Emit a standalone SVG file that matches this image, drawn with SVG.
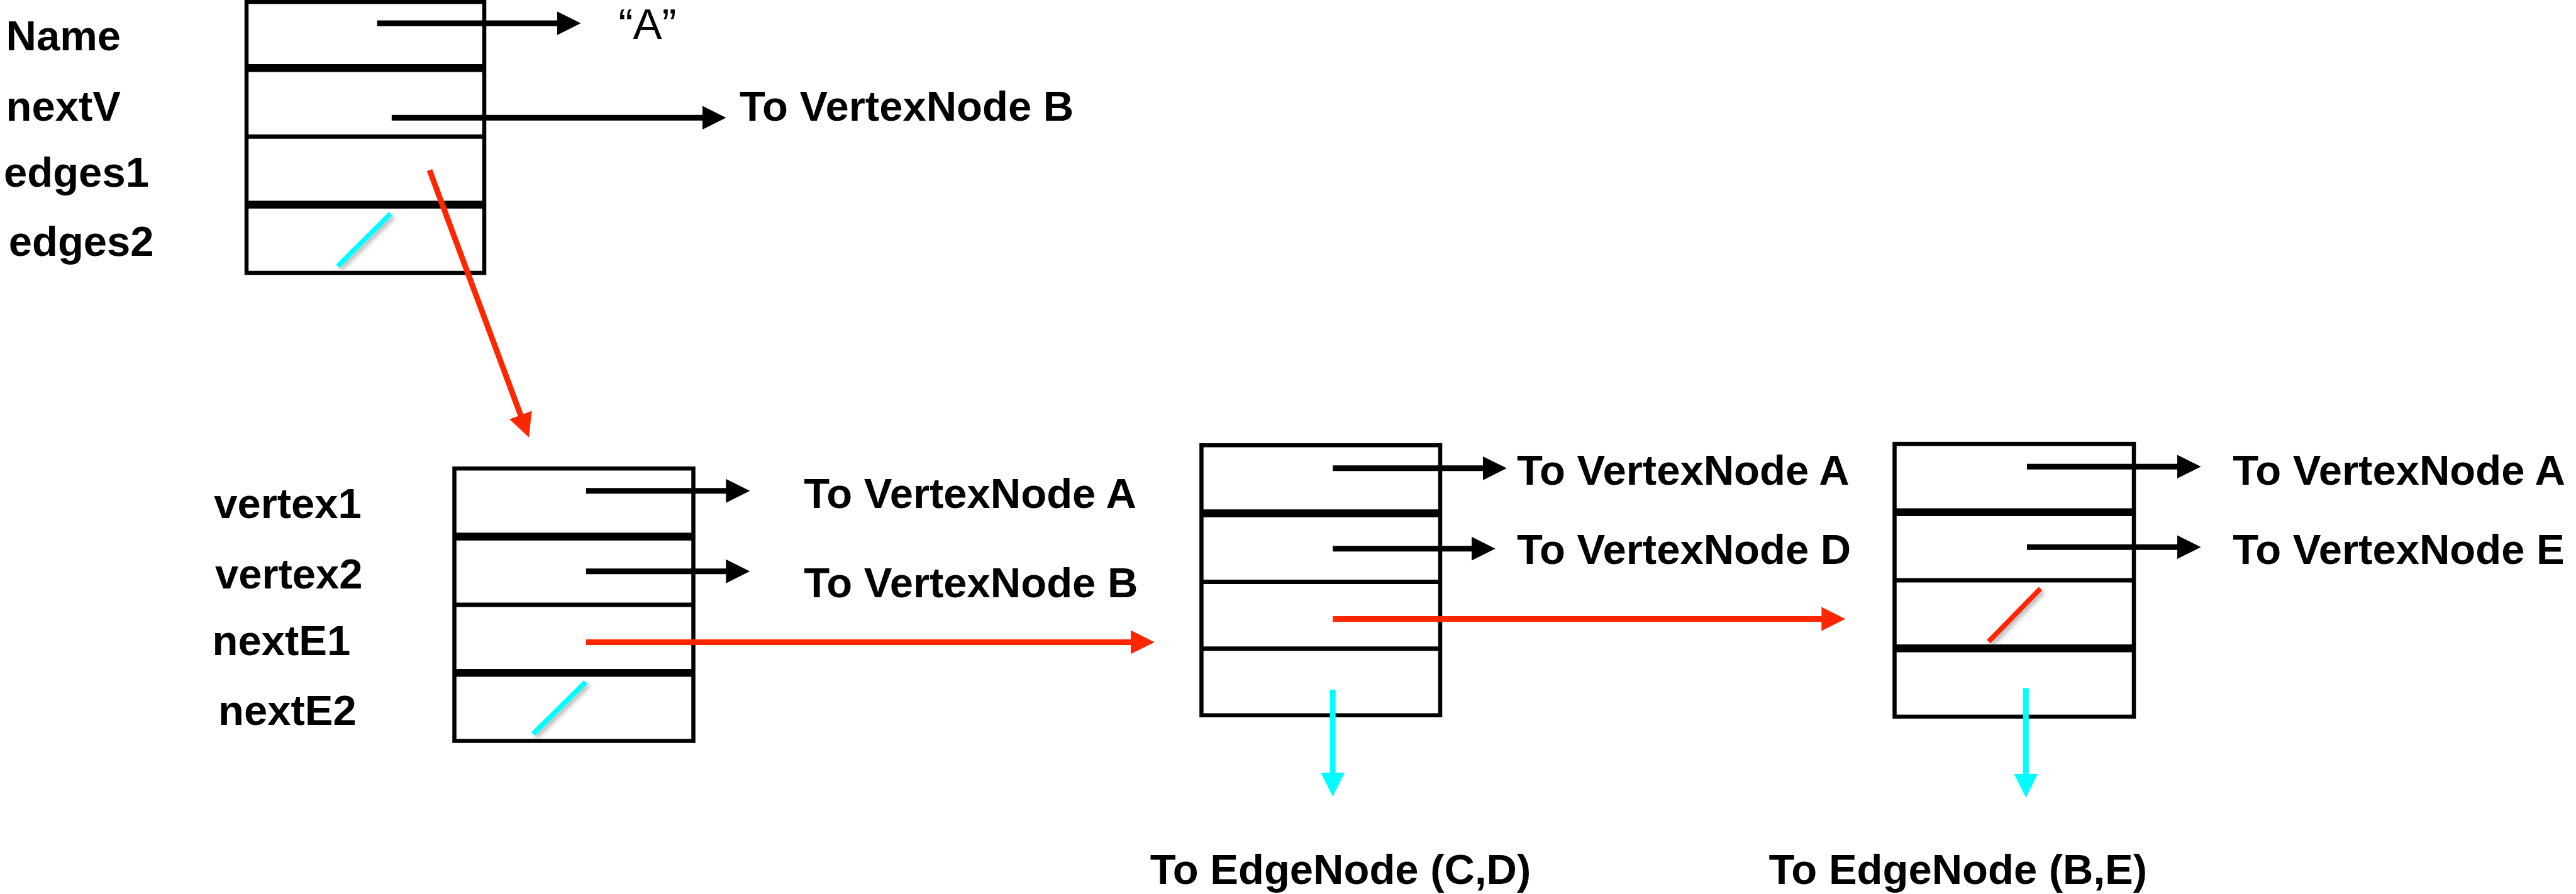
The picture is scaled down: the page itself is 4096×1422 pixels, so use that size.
<svg xmlns="http://www.w3.org/2000/svg" width="4096" height="1422" viewBox="0 0 4096 1422">
  <style>
    .cell { fill: #ffffff; stroke: #000000; stroke-width: 6.5; }
    .thick { stroke: #000000; stroke-width: 12.5; }
    .thin { stroke: #000000; stroke-width: 7; }
    .lbl { font-family: "Liberation Sans", Arial, Helvetica, sans-serif; font-weight: bold; font-size: 67px; fill: #000000; }
    .val { font-family: "Liberation Sans", Arial, Helvetica, sans-serif; font-weight: normal; font-size: 69px; fill: #000000; }
    .ptr { stroke: #000000; stroke-width: 9; fill: none; }
    .red { stroke: #ff2600; stroke-width: 9; fill: none; }
    .cyan { stroke: #00fdff; stroke-width: 9; fill: none; }
    .nullR { stroke: #ff2600; stroke-width: 8; filter: url(#soft); }
    .nullC { stroke: #00fdff; stroke-width: 8; filter: url(#soft); }
  </style>
  <defs>
    <filter id="soft" x="-30%" y="-30%" width="160%" height="160%">
      <feDropShadow dx="4" dy="4" stdDeviation="3.5" flood-color="#000000" flood-opacity="0.3"/>
    </filter>
    <marker id="headK" markerUnits="userSpaceOnUse" markerWidth="40" markerHeight="40" viewBox="0 0 40 40" refX="2" refY="20" orient="auto">
      <path d="M0,1 L38,20 L0,39 z" fill="#000000"/>
    </marker>
    <marker id="headR" markerUnits="userSpaceOnUse" markerWidth="40" markerHeight="40" viewBox="0 0 40 40" refX="2" refY="20" orient="auto">
      <path d="M0,1 L38,20 L0,39 z" fill="#ff2600"/>
    </marker>
    <marker id="headC" markerUnits="userSpaceOnUse" markerWidth="40" markerHeight="40" viewBox="0 0 40 40" refX="2" refY="20" orient="auto">
      <path d="M0,1 L38,20 L0,39 z" fill="#00fdff"/>
    </marker>
  </defs>
  <rect x="0" y="0" width="4096" height="1422" fill="#ffffff"/>

  <!-- vertex node A -->
  <g id="vertex-node-A">
    <rect class="cell" x="392" y="3" width="378" height="431"/>
    <line class="thick" x1="392" y1="108.2" x2="770" y2="108.2"/>
    <line class="thin" x1="392" y1="217.3" x2="770" y2="217.3"/>
    <line class="thick" x1="392" y1="325.6" x2="770" y2="325.6"/>
    <line class="nullC" x1="537" y1="423.5" x2="621" y2="340"/>
    <text class="lbl" x="9.5" y="80">Name</text>
    <text class="lbl" x="9.5" y="191.6">nextV</text>
    <text class="lbl" x="6" y="297.2">edges1</text>
    <text class="lbl" x="13.7" y="407.2">edges2</text>
  </g>

  <!-- edge node (A,B) -->
  <g id="edge-node-AB">
    <rect class="cell" x="722.5" y="745.2" width="380" height="433.3"/>
    <line class="thick" x1="722.5" y1="853.4" x2="1102.5" y2="853.4"/>
    <line class="thin" x1="722.5" y1="962.1" x2="1102.5" y2="962.1"/>
    <line class="thick" x1="722.5" y1="1070.3" x2="1102.5" y2="1070.3"/>
    <line class="nullC" x1="847.8" y1="1167.4" x2="931.2" y2="1084.9"/>
    <text class="lbl" x="340.2" y="823.8">vertex1</text>
    <text class="lbl" x="341.9" y="935.5">vertex2</text>
    <text class="lbl" x="337.6" y="1042">nextE1</text>
    <text class="lbl" x="347" y="1152.8">nextE2</text>
  </g>

  <!-- edge node (A,D) -->
  <g id="edge-node-AD">
    <rect class="cell" x="1910.4" y="708.2" width="379.6" height="429.5"/>
    <line class="thick" x1="1910.4" y1="816.5" x2="2290" y2="816.5"/>
    <line class="thin" x1="1910.4" y1="925.6" x2="2290" y2="925.6"/>
    <line class="thin" x1="1910.4" y1="1031.7" x2="2290" y2="1031.7"/>
  </g>

  <!-- edge node (A,E) -->
  <g id="edge-node-AE">
    <rect class="cell" x="3012.5" y="706.1" width="380.5" height="433.8"/>
    <line class="thick" x1="3012.5" y1="814.8" x2="3393" y2="814.8"/>
    <line class="thin" x1="3012.5" y1="923" x2="3393" y2="923"/>
    <line class="thick" x1="3012.5" y1="1031.2" x2="3393" y2="1031.2"/>
    <line class="nullR" x1="3162" y1="1020.5" x2="3244.4" y2="936.3"/>
  </g>

  <!-- pointer targets -->
  <g id="targets">
    <text class="val" x="983.6" y="61.8">“A”</text>
    <text class="lbl" x="1176" y="191.6">To VertexNode B</text>
    <text class="lbl" x="1278.2" y="808.3">To VertexNode A</text>
    <text class="lbl" x="1278.2" y="950">To VertexNode B</text>
    <text class="lbl" x="2412" y="770.5">To VertexNode A</text>
    <text class="lbl" x="2412" y="896.8">To VertexNode D</text>
    <text class="lbl" x="3550.3" y="770.5">To VertexNode A</text>
    <text class="lbl" x="3550.3" y="896.8">To VertexNode E</text>
    <text class="lbl" x="1828.8" y="1406.2">To EdgeNode (C,D)</text>
    <text class="lbl" x="2812.4" y="1406.2">To EdgeNode (B,E)</text>
  </g>

  <!-- connectors: line ends sit 36px before each arrow tip -->
  <g id="connectors">
    <line class="ptr" x1="599.6" y1="37" x2="887.5" y2="37" marker-end="url(#headK)"/>
    <line class="ptr" x1="622.8" y1="187.3" x2="1118.5" y2="187.3" marker-end="url(#headK)"/>
    <line class="red" x1="683" y1="270.6" x2="828.5" y2="662.1" marker-end="url(#headR)"/>

    <line class="ptr" x1="932" y1="780.8" x2="1156.3" y2="780.8" marker-end="url(#headK)"/>
    <line class="ptr" x1="932" y1="908.8" x2="1156.3" y2="908.8" marker-end="url(#headK)"/>
    <line class="red" x1="932" y1="1021.4" x2="1799.7" y2="1021.4" marker-end="url(#headR)"/>

    <line class="ptr" x1="2119.2" y1="744.8" x2="2359.8" y2="744.8" marker-end="url(#headK)"/>
    <line class="ptr" x1="2119.2" y1="872.7" x2="2341.7" y2="872.7" marker-end="url(#headK)"/>
    <line class="red" x1="2119.2" y1="984.4" x2="2898.3" y2="984.4" marker-end="url(#headR)"/>
    <line class="cyan" x1="2119.2" y1="1097" x2="2119.2" y2="1231" marker-end="url(#headC)"/>

    <line class="ptr" x1="3223" y1="742.2" x2="3463.6" y2="742.2" marker-end="url(#headK)"/>
    <line class="ptr" x1="3223" y1="870.2" x2="3463.6" y2="870.2" marker-end="url(#headK)"/>
    <line class="cyan" x1="3221.3" y1="1094.4" x2="3221.3" y2="1232.7" marker-end="url(#headC)"/>
  </g>
</svg>
